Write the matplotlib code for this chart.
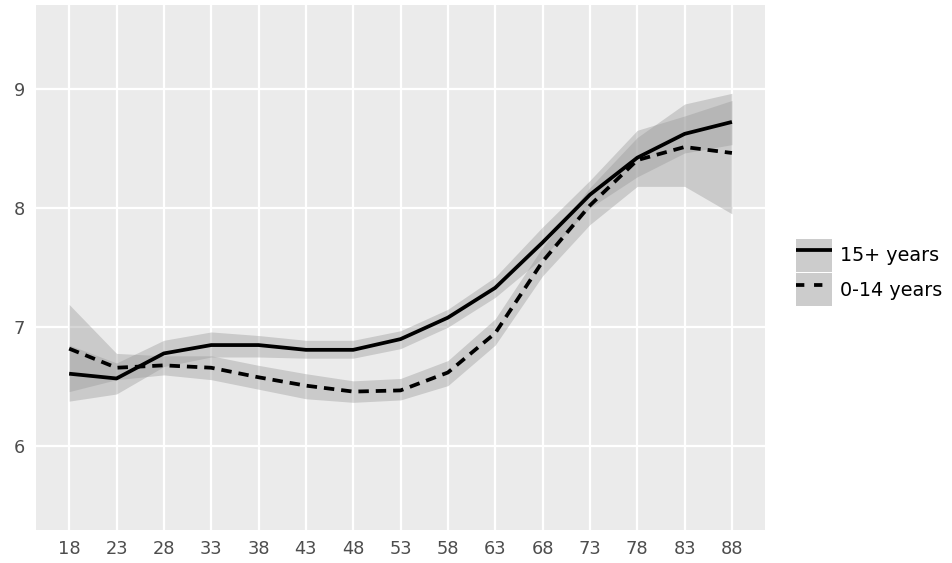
import matplotlib
matplotlib.use("Agg")
import matplotlib.pyplot as plt
from matplotlib.patches import Patch
from matplotlib.lines import Line2D

plt.rcParams["font.family"] = ["DejaVu Sans"]
plt.rcParams["lines.scale_dashes"] = False

# Age groups on the x axis
ages = [18, 23, 28, 33, 38, 43, 48, 53, 58, 63, 68, 73, 78, 83, 88]

# 15+ years: estimate and confidence band
older_mid = [6.61, 6.57, 6.78, 6.85, 6.85, 6.81, 6.81, 6.90, 7.08, 7.33, 7.71, 8.11, 8.42, 8.62, 8.72]
older_lo = [6.38, 6.44, 6.67, 6.75, 6.75, 6.74, 6.74, 6.82, 7.00, 7.25, 7.58, 8.00, 8.26, 8.46, 8.53]
older_hi = [6.85, 6.70, 6.89, 6.96, 6.93, 6.89, 6.89, 6.97, 7.15, 7.42, 7.84, 8.23, 8.65, 8.77, 8.90]

# 0-14 years: estimate and confidence band
young_mid = [6.82, 6.66, 6.68, 6.66, 6.58, 6.51, 6.46, 6.47, 6.62, 6.95, 7.55, 8.02, 8.40, 8.51, 8.46]
young_lo = [6.46, 6.56, 6.60, 6.56, 6.48, 6.40, 6.37, 6.39, 6.51, 6.85, 7.43, 7.86, 8.18, 8.18, 7.95]
young_hi = [7.19, 6.78, 6.76, 6.76, 6.68, 6.61, 6.55, 6.57, 6.72, 7.07, 7.67, 8.17, 8.59, 8.87, 8.96]

series_labels = ["15+ years", "0-14 years"]
y_ticks = [6, 7, 8, 9]

fig = plt.figure(figsize=(9.53, 5.63), dpi=100)
ax = fig.add_axes([0.0378, 0.0586, 0.765, 0.9325])
ax.set_facecolor("#EBEBEB")

band_color = "#999999"
ax.fill_between(ages, older_lo, older_hi, color=band_color, alpha=0.4, linewidth=0, zorder=2)
ax.fill_between(ages, young_lo, young_hi, color=band_color, alpha=0.4, linewidth=0, zorder=2)
ax.plot(ages, older_mid, color="black", linewidth=2.7, solid_capstyle="butt", zorder=3)
ax.plot(ages, young_mid, color="black", linewidth=2.7, dashes=(7.5, 5), dash_capstyle="butt", zorder=3)

ax.set_xlim(14.5, 91.5)
ax.set_ylim(5.30, 9.70)
ax.set_xticks(ages)
ax.set_xticklabels([str(a) for a in ages])
ax.set_yticks(y_ticks)
ax.set_yticklabels([str(t) for t in y_ticks])

ax.grid(True, color="white", linewidth=1.6, zorder=1)
ax.set_axisbelow(True)
for s in ax.spines.values():
    s.set_visible(False)
ax.tick_params(axis="both", length=0, labelsize=12.8, labelcolor="#4D4D4D")
ax.tick_params(axis="x", pad=7)
ax.tick_params(axis="y", pad=8)

key_fill = "#CCCCCC"
handles = [
    (Patch(facecolor=key_fill, edgecolor="none"),
     Line2D([], [], color="black", linewidth=2.7, solid_capstyle="butt")),
    (Patch(facecolor=key_fill, edgecolor="none"),
     Line2D([], [], color="black", linewidth=2.7, dashes=(6, 7), dash_capstyle="butt")),
]
fig.legend(handles, series_labels, loc="center left", bbox_to_anchor=(0.835, 0.516),
           frameon=False, fontsize=13.8, handlelength=1.9, handleheight=2.24,
           labelspacing=0.1, handletextpad=0.4, borderaxespad=0, borderpad=0)

fig.savefig("out.png", dpi=100)
